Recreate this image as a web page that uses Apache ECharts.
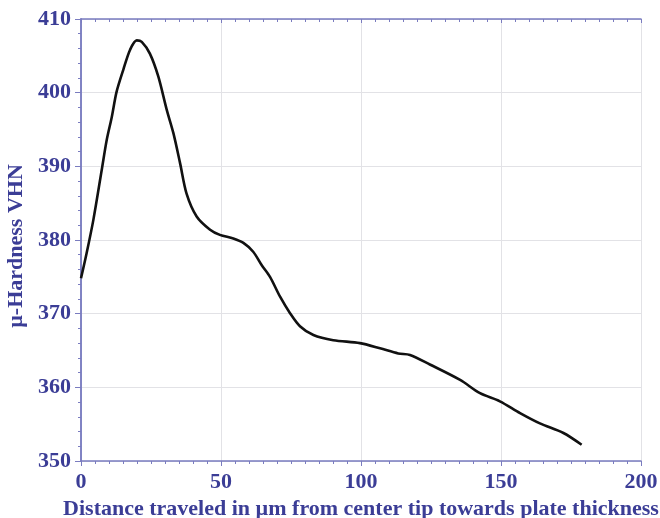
<!DOCTYPE html>
<html>
<head>
<meta charset="utf-8">
<script src="https://cdn.jsdelivr.net/npm/echarts@6/dist/echarts.min.js"></script>
<style>
  html, body { margin: 0; padding: 0; background: #fff; }
  #chart { width: 660px; height: 518px; }
</style>
</head>
<body>
<div id="chart"></div>
<script>
// distance (µm) and hardness readings
var distance = [0, 2, 4.4, 7.4, 9.2, 11, 12.7, 15.1, 17.5, 19.9, 21.7, 24.6, 27.6, 30.6, 33, 35.4,
  37.7, 41.3, 46.1, 49.6, 54.4, 58, 61.5, 64.5, 67.5, 71.1, 74.6, 78.2, 83, 90.1, 99.6, 106.8,
  113.3, 117.5, 124.6, 135.4, 142.5, 149.6, 156.8, 163.9, 172.3, 178.8];
var hardness = [374.8, 378.2, 382.7, 389.5, 393.6, 396.7, 400.1, 403.1, 405.8, 407.1, 406.9, 405.3,
  402.2, 397.7, 394.5, 390.4, 386.3, 383.2, 381.4, 380.7, 380.2, 379.6, 378.4, 376.6, 375.0, 372.3,
  370.1, 368.3, 367.1, 366.4, 366.0, 365.3, 364.6, 364.4, 363.1, 361.0, 359.2, 358.1, 356.5, 355.1,
  353.8, 352.2];

var xTitle = "Distance traveled in µm from center tip towards plate thickness";
var yTitle = "µ-Hardness VHN";

var textColor = "#3b3d96";
var lineColor = "#7a7cc0";
var font = "Liberation Serif";

var points = distance.map(function (d, i) { return [d, hardness[i]]; });

var chart = echarts.init(document.getElementById("chart"));

var option = {
  animation: false,
  grid: { left: 81, right: 19, top: 19, bottom: 57, outerBoundsMode: "none", containLabel: false },
  xAxis: [
    {
      type: "value",
      position: "bottom",
      min: 0,
      max: 200,
      interval: 50,
      name: xTitle,
      nameLocation: "middle",
      nameGap: 33,
      nameTextStyle: { color: textColor, fontFamily: font, fontWeight: "bold", fontSize: 22 },
      axisLine: { lineStyle: { color: lineColor, width: 1.5 } },
      axisTick: { show: true, length: 5, lineStyle: { color: lineColor } },
      minorTick: { show: true, splitNumber: 10, length: 3, lineStyle: { color: lineColor } },
      axisLabel: { color: textColor, fontFamily: font, fontWeight: "bold", fontSize: 22, margin: 10 },
      splitLine: { show: true, lineStyle: { color: "#e2e2e6", width: 1 } }
    },
    {
      type: "value",
      position: "top",
      min: 0,
      max: 200,
      interval: 50,
      axisLine: { lineStyle: { color: lineColor, width: 1.5 } },
      axisTick: { show: true, inside: true, length: 4, lineStyle: { color: lineColor } },
      minorTick: { show: true, splitNumber: 10, length: 3, lineStyle: { color: lineColor } },
      axisLabel: { show: false },
      splitLine: { show: false }
    }
  ],
  yAxis: [
    {
      type: "value",
      position: "left",
      min: 350,
      max: 410,
      interval: 10,
      axisLine: { show: true, lineStyle: { color: lineColor, width: 1.5 } },
      axisTick: { show: true, length: 6, lineStyle: { color: lineColor } },
      minorTick: { show: true, splitNumber: 5, length: 3, lineStyle: { color: lineColor } },
      axisLabel: { color: textColor, fontFamily: font, fontWeight: "bold", fontSize: 22, margin: 10 },
      splitLine: { show: true, lineStyle: { color: "#e2e2e6", width: 1 } }
    },
    {
      type: "value",
      position: "right",
      min: 350,
      max: 410,
      interval: 10,
      axisLine: { show: true, lineStyle: { color: lineColor, width: 1.5 } },
      axisTick: { show: true, inside: true, length: 4, lineStyle: { color: lineColor } },
      minorTick: { show: true, splitNumber: 5, length: 3, lineStyle: { color: lineColor } },
      axisLabel: { show: false },
      splitLine: { show: false }
    }
  ],
  graphic: [
    {
      type: "text",
      x: 16,
      y: 246,
      rotation: Math.PI / 2,
      style: {
        text: yTitle,
        fill: textColor,
        font: "bold 22px '" + font + "'",
        textAlign: "center",
        textVerticalAlign: "middle"
      }
    }
  ],
  series: [
    {
      type: "line",
      xAxisIndex: 0,
      yAxisIndex: 0,
      data: points,
      smooth: 0.3,
      showSymbol: false,
      lineStyle: { color: "#111", width: 2.6 }
    }
  ]
};

chart.setOption(option);
</script>
</body>
</html>
